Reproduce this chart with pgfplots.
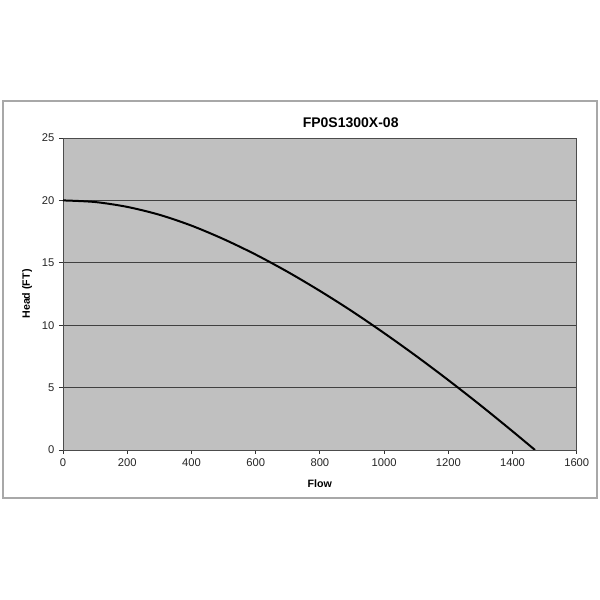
\documentclass[border=0pt]{standalone}
\usepackage{pgfplots}
\pgfplotsset{compat=1.18}
\usepackage{fontspec}
\setmainfont{Liberation Sans}
\definecolor{plotbg}{RGB}{192,192,192}
\definecolor{framec}{RGB}{168,168,168}
\begin{document}
\begin{tikzpicture}
\path[use as bounding box] (-47.25pt,-112.5pt) rectangle (402.75pt,337.5pt);
\fill[white] (-47.25pt,-112.5pt) rectangle (402.75pt,337.5pt);
\draw[framec, line width=0.9pt] (-45pt,-36pt) rectangle (400.5pt,261.75pt);
\begin{axis}[
 at={(0,0)}, anchor=south west,
 scale only axis, width=385.3pt, height=234pt,
 xmin=0, xmax=1600, ymin=0, ymax=25,
 xtick={0,200,...,1600}, ytick={0,5,...,25},
 axis background/.style={fill=plotbg},
 axis line style={draw=black!70, line width=0.7pt},
 ymajorgrids, major grid style={black!75, line width=0.6pt},
 tick align=outside, major tick length=3pt, tick style={black!80, line width=0.6pt},
 xtick pos=bottom, ytick pos=left,
 /pgf/number format/assume math mode=true,
 /pgf/number format/1000 sep={},
 tick label style={font=\fontsize{8.4}{9}\selectfont, text=black!85},
 title={FP0S1300X-08},
 every axis title shift=0pt,
 title style={font=\bfseries\fontsize{10.5}{11}\selectfont, at={(axis description cs:0.56,1.048)}, anchor=center},
 xlabel={Flow}, ylabel={Head (FT)},
 label style={font=\bfseries\fontsize{8}{9}\selectfont},
 xlabel style={at={(axis description cs:0.5,-0.109)}, anchor=center},
 ylabel style={at={(axis description cs:-0.070,0.5)}, anchor=center},
]
\addplot[black, line width=1.5pt, smooth] coordinates {
(0,20) (100,19.87) (200,19.48) (300,18.85) (400,17.98) (500,16.90)
(600,15.66) (700,14.27) (800,12.75) (900,11.12) (1000,9.37)
(1100,7.53) (1200,5.60) (1300,3.59) (1400,1.50) (1470,0)
};
\end{axis}
\end{tikzpicture}
\end{document}
